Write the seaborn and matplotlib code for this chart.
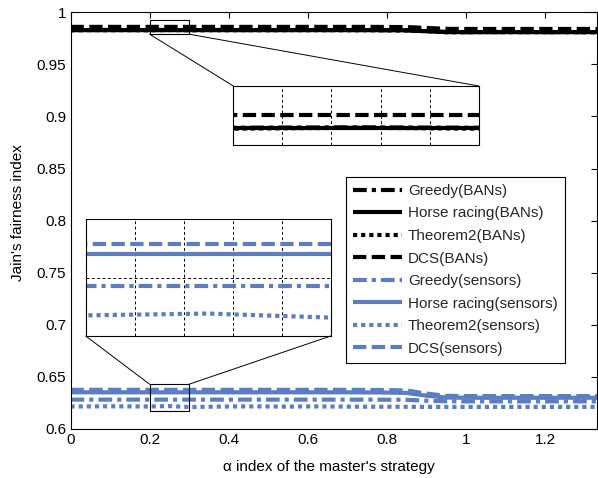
import numpy as np
import pandas as pd
import matplotlib
matplotlib.use("Agg")
import matplotlib.pyplot as plt
from matplotlib.patches import Rectangle, ConnectionPatch
import seaborn as sns

# ---------------- data ----------------
alpha = [0.00, 0.05, 0.10, 0.15, 0.20, 0.25, 0.30, 0.35, 0.40, 0.45,
         0.50, 0.55, 0.60, 0.65, 0.70, 0.75, 0.80, 0.85, 0.90, 0.95,
         1.00, 1.05, 1.10, 1.15, 1.20, 1.25, 1.30, 1.35]

greedy_bans = [0.9830, 0.9830, 0.9831, 0.9830, 0.9830, 0.9831, 0.9830, 0.9830, 0.9831, 0.9830,
               0.9830, 0.9830, 0.9831, 0.9830, 0.9830, 0.9830, 0.9829, 0.9828, 0.9820, 0.9811,
               0.9810, 0.9810, 0.9811, 0.9810, 0.9810, 0.9810, 0.9810, 0.9810]
horse_bans = [0.9829, 0.9829, 0.9829, 0.9829, 0.9829, 0.9829, 0.9829, 0.9829, 0.9829, 0.9829,
              0.9829, 0.9829, 0.9829, 0.9829, 0.9829, 0.9829, 0.9828, 0.9827, 0.9819, 0.9810,
              0.9810, 0.9810, 0.9810, 0.9810, 0.9810, 0.9810, 0.9810, 0.9810]
theorem2_bans = [0.9828, 0.9829, 0.9828, 0.9829, 0.9828, 0.9830, 0.9828, 0.9829, 0.9828, 0.9829,
                 0.9828, 0.9829, 0.9828, 0.9829, 0.9828, 0.9828, 0.9827, 0.9826, 0.9818, 0.9809,
                 0.9809, 0.9810, 0.9809, 0.9810, 0.9809, 0.9810, 0.9809, 0.9809]
dcs_bans = [0.9860, 0.9860, 0.9860, 0.9860, 0.9860, 0.9860, 0.9860, 0.9860, 0.9860, 0.9860,
            0.9860, 0.9860, 0.9860, 0.9860, 0.9860, 0.9860, 0.9859, 0.9858, 0.9850, 0.9841,
            0.9840, 0.9840, 0.9840, 0.9840, 0.9840, 0.9840, 0.9840, 0.9840]

greedy_sens = [0.6282, 0.6282, 0.6282, 0.6282, 0.6282, 0.6282, 0.6282, 0.6282, 0.6282, 0.6282,
               0.6282, 0.6282, 0.6282, 0.6282, 0.6282, 0.6282, 0.6281, 0.6280, 0.6272, 0.6266,
               0.6265, 0.6265, 0.6265, 0.6265, 0.6265, 0.6265, 0.6265, 0.6265]
horse_sens = [0.6352, 0.6352, 0.6352, 0.6352, 0.6352, 0.6352, 0.6352, 0.6352, 0.6352, 0.6352,
              0.6352, 0.6352, 0.6352, 0.6352, 0.6352, 0.6351, 0.6350, 0.6346, 0.6320, 0.6302,
              0.6300, 0.6300, 0.6300, 0.6300, 0.6300, 0.6300, 0.6300, 0.6300]
theorem2_sens = [0.6216, 0.6217, 0.6218, 0.6217, 0.6216, 0.6220, 0.6211, 0.6214, 0.6216, 0.6217,
                 0.6216, 0.6215, 0.6217, 0.6216, 0.6215, 0.6214, 0.6214, 0.6213, 0.6212, 0.6212,
                 0.6212, 0.6212, 0.6212, 0.6212, 0.6212, 0.6212, 0.6212, 0.6212]
dcs_sens = [0.6376, 0.6376, 0.6376, 0.6376, 0.6376, 0.6376, 0.6376, 0.6376, 0.6376, 0.6376,
            0.6376, 0.6376, 0.6376, 0.6376, 0.6376, 0.6375, 0.6374, 0.6370, 0.6340, 0.6318,
            0.6316, 0.6316, 0.6316, 0.6316, 0.6316, 0.6316, 0.6316, 0.6316]

series_names = ["Greedy(BANs)", "Horse racing(BANs)", "Theorem2(BANs)", "DCS(BANs)",
                "Greedy(sensors)", "Horse racing(sensors)", "Theorem2(sensors)", "DCS(sensors)"]
series_values = [greedy_bans, horse_bans, theorem2_bans, dcs_bans,
                 greedy_sens, horse_sens, theorem2_sens, dcs_sens]

x_ticks = [0, 0.2, 0.4, 0.6, 0.8, 1, 1.2]
x_tick_labels = ["0", "0.2", "0.4", "0.6", "0.8", "1", "1.2"]
y_ticks = [0.6, 0.65, 0.7, 0.75, 0.8, 0.85, 0.9, 0.95, 1.0]
y_tick_labels = ["0.6", "0.65", "0.7", "0.75", "0.8", "0.85", "0.9", "0.95", "1"]

# ---------------- styling ----------------
BLACK = "#000000"
BLUE = "#5a7dc3"
styles = {
    "Greedy": (0, (3.3, 1.2, 1.0, 1.2)),
    "Horse racing": "solid",
    "Theorem2": (0, (1.0, 0.95)),
    "DCS": (0, (3.2, 1.3)),
}

def style_of(name):
    return styles[name.split("(")[0]]

def color_of(name):
    return BLACK if "BANs" in name else BLUE

df = pd.concat(
    [pd.DataFrame({"alpha": alpha, "fairness": vals, "series": name})
     for name, vals in zip(series_names, series_values)],
    ignore_index=True,
)

sns.set_theme(style="white")
plt.rcParams["font.family"] = ["Liberation Sans", "DejaVu Sans"]
plt.rcParams["lines.solid_capstyle"] = "butt"
plt.rcParams["lines.dash_capstyle"] = "butt"

W, H = 598, 478
fig = plt.figure(figsize=(W / 100, H / 100), dpi=100)
fig.patch.set_facecolor("white")

ax = fig.add_axes([70.5 / W, 1 - 429 / H, (597 - 70.5) / W, (429 - 12.3) / H])

def draw(axis, lw, legend=False):
    for name in series_names:
        sub = df[df["series"] == name]
        sns.lineplot(data=sub, x="alpha", y="fairness", ax=axis, color=color_of(name),
                     linestyle=style_of(name), linewidth=lw, label=name if legend else None,
                     legend=False, estimator=None, sort=False)

draw(ax, 3.5, legend=True)
ax.set_xlim(0, 1.3316)
ax.set_ylim(0.6, 1.0)
ax.set_xticks(x_ticks)
ax.set_xticklabels(x_tick_labels)
ax.set_yticks(y_ticks)
ax.set_yticklabels(y_tick_labels)
ax.tick_params(direction="in", length=4, width=0.8, top=True, right=True,
               labelsize=11, colors="black", pad=3)
for sp in ax.spines.values():
    sp.set_color("black")
    sp.set_linewidth(0.8)
ax.set_xlabel("α index of the master's strategy", fontsize=11, color="black")
ax.set_ylabel("Jain's fairness index", fontsize=11, color="black")
ax.xaxis.set_label_coords(0.49, -0.075)
ax.yaxis.set_label_coords(-0.086, 0.52)

# zoom rectangles on main axes
ban_box = (0.2, 0.3, 0.979, 0.9927)
sens_box = (0.2, 0.3, 0.617, 0.643)
for (x0, x1, y0, y1) in (ban_box, sens_box):
    ax.add_patch(Rectangle((x0, y0), x1 - x0, y1 - y0, fill=False, edgecolor="black",
                           linewidth=0.8, zorder=5))

# insets
ax_ban = fig.add_axes([233.3 / W, 1 - 145 / H, 245.4 / W, 59 / H])
ax_sen = fig.add_axes([85.7 / W, 1 - 336 / H, 245 / W, 116.7 / H])
draw(ax_ban, 3)
draw(ax_sen, 3)
ax_ban.set_xlim(0.2, 0.3)
ax_ban.set_ylim(ban_box[2], ban_box[3])
ax_sen.set_xlim(0.2, 0.3)
ax_sen.set_ylim(sens_box[2], sens_box[3])
for a, yt in ((ax_ban, []), (ax_sen, [0.63])):
    a.set_facecolor("white")
    a.set_xticks([0.22, 0.24, 0.26, 0.28])
    a.set_yticks(yt)
    a.set_xticklabels([])
    a.set_yticklabels([])
    a.set_xlabel("")
    a.set_ylabel("")
    a.tick_params(length=0)
    a.grid(True, color="black", linestyle=(0, (3, 2.5)), linewidth=0.7)
    a.set_axisbelow(True)
    for sp in a.spines.values():
        sp.set_color("black")
        sp.set_linewidth(0.8)

# connectors
con_kw = dict(color="black", linewidth=0.7)
for xa, xi in ((0.2, 0), (0.3, 1)):
    fig.add_artist(ConnectionPatch(xyA=(xa, ban_box[2]), coordsA=ax.transData,
                                   xyB=(xi, 1), coordsB=ax_ban.transAxes, **con_kw))
    fig.add_artist(ConnectionPatch(xyA=(xa, sens_box[3]), coordsA=ax.transData,
                                   xyB=(xi, 0), coordsB=ax_sen.transAxes, **con_kw))

# legend
handles, labels = ax.get_legend_handles_labels()
for h in handles:
    h.set_linewidth(3)
leg = fig.legend(handles, labels, loc="upper left", bbox_to_anchor=(346 / W, 1 - 177 / H),
                 bbox_transform=fig.transFigure, borderaxespad=0, fontsize=11,
                 frameon=True, fancybox=False, shadow=False, handlelength=3.2,
                 handletextpad=0.4, labelspacing=0.56, borderpad=0.45)
leg.get_frame().set_edgecolor("black")
leg.get_frame().set_linewidth(0.8)
leg.get_frame().set_facecolor("white")
leg.get_frame().set_alpha(1)
leg.set_zorder(20)

fig.savefig("out.png", dpi=100, facecolor="white")
